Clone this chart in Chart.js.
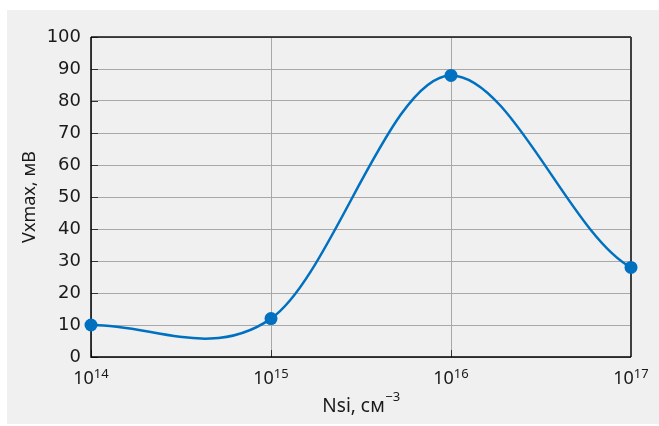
<!DOCTYPE html>
<html>
<head>
<meta charset="utf-8">
<script src="https://cdn.jsdelivr.net/npm/chart.js@4"></script>
<style>
html,body{margin:0;padding:0;background:#fff;}
#wrap{width:659px;height:426px;}
</style>
</head>
<body>
<div id="wrap"><canvas id="c" width="659" height="426"></canvas></div>
<script>
const concentrations = [1e14, 1e15, 1e16, 1e17];
const vxmax = [10, 12, 88, 28];
const xTickValues = [1e14, 1e15, 1e16, 1e17];
const xTickBase = ['10', '10', '10', '10'];
const xTickExp = ['14', '15', '16', '17'];
const yTickStep = 10;
const yTitle = 'Vxmax, мВ';
const xTitleMain = 'Nsi, см';
const xTitleExp = '\u22123';

const TEXT = '#1a1a1a';

// Smooth curve: Catmull-Rom style tangents (zero at local extrema, half secant at ends),
// computed from the point elements' pixel positions given by the scales.
const smoothCurve = {
  id: 'smoothCurve',
  beforeDatasetsDraw(chart) {
    const meta = chart.getDatasetMeta(0);
    const line = meta.dataset;
    line.updateControlPoints(chart.chartArea, meta.iAxis);
    const p = meta.data;
    const n = p.length;
    const d = [];
    for (let i = 0; i < n - 1; i++) d.push((p[i + 1].y - p[i].y) / (p[i + 1].x - p[i].x));
    const m = [];
    for (let i = 0; i < n; i++) {
      if (i === 0) m.push(d[0] / 2);
      else if (i === n - 1) m.push(d[n - 2] / 2);
      else m.push(d[i - 1] * d[i] <= 0 ? 0 : (d[i - 1] + d[i]) / 2);
    }
    for (let i = 0; i < n; i++) {
      const dxPrev = i > 0 ? (p[i].x - p[i - 1].x) / 3 : 0;
      const dxNext = i < n - 1 ? (p[i + 1].x - p[i].x) / 3 : 0;
      p[i].cp1x = p[i].x - dxPrev; p[i].cp1y = p[i].y - m[i] * dxPrev;
      p[i].cp2x = p[i].x + dxNext; p[i].cp2y = p[i].y + m[i] * dxNext;
    }
    line._pointsUpdated = true;
    line._path = undefined;
  }
};

const frame = {
  id: 'frame',
  beforeDraw(chart) {
    const ctx = chart.ctx;
    ctx.save();
    ctx.fillStyle = '#ffffff';
    ctx.fillRect(0, 0, chart.width, chart.height);
    ctx.fillStyle = '#f0f0f0';
    ctx.fillRect(7, 10, chart.width - 7, chart.height - 12);
    ctx.restore();
  },
  beforeDatasetsDraw(chart) {
    const ctx = chart.ctx;
    const a = chart.chartArea;
    const xs = chart.scales.x, ys = chart.scales.y;
    ctx.save();
    ctx.strokeStyle = '#333';
    ctx.lineWidth = 1;
    ys.ticks.forEach(t => {
      const y = Math.round(ys.getPixelForValue(t.value)) + 0.5;
      ctx.beginPath(); ctx.moveTo(a.left, y); ctx.lineTo(a.left + 7, y); ctx.stroke();
    });
    xs.ticks.forEach(t => {
      const x = Math.round(xs.getPixelForValue(t.value)) + 0.5;
      ctx.beginPath(); ctx.moveTo(x, a.bottom); ctx.lineTo(x, a.bottom - 7); ctx.stroke();
    });
    ctx.strokeStyle = '#111';
    ctx.lineWidth = 1.5;
    ctx.beginPath(); ctx.moveTo(a.left, a.top); ctx.lineTo(a.right, a.top); ctx.stroke();
    ctx.strokeStyle = '#404040';
    ctx.lineWidth = 2;
    ctx.beginPath(); ctx.moveTo(a.right, a.top); ctx.lineTo(a.right, a.bottom); ctx.stroke();
    ctx.strokeStyle = '#000';
    ctx.lineWidth = 1.5;
    ctx.beginPath(); ctx.moveTo(a.left, a.top); ctx.lineTo(a.left, a.bottom); ctx.lineTo(a.right, a.bottom); ctx.stroke();
    ctx.restore();
  },
  afterDraw(chart) {
    const ctx = chart.ctx;
    const a = chart.chartArea;
    const xs = chart.scales.x;
    ctx.save();
    ctx.fillStyle = TEXT;
    ctx.textBaseline = 'alphabetic';
    ctx.textAlign = 'left';
    const baseFont = '18px "Noto Sans"';
    const expFont = '13px "Noto Sans"';
    xTickValues.forEach((v, i) => {
      const cx = xs.getPixelForValue(v);
      ctx.font = baseFont;
      const wb = ctx.measureText(xTickBase[i]).width;
      ctx.font = expFont;
      const we = ctx.measureText(xTickExp[i]).width;
      const x0 = cx - (wb + we) / 2;
      ctx.font = baseFont;
      ctx.fillText(xTickBase[i], x0, a.bottom + 27);
      ctx.font = expFont;
      ctx.fillText(xTickExp[i], x0 + wb, a.bottom + 21);
    });
    const tMain = '19px "Noto Sans"';
    ctx.font = tMain;
    const wm = ctx.measureText(xTitleMain).width;
    ctx.font = expFont;
    const wx = ctx.measureText(xTitleExp).width;
    const cx = (a.left + a.right) / 2;
    const x0 = cx - (wm + wx) / 2;
    ctx.font = tMain;
    ctx.fillText(xTitleMain, x0, a.bottom + 55);
    ctx.font = expFont;
    ctx.fillText(xTitleExp, x0 + wm + 0.5, a.bottom + 43.5);
    ctx.restore();
  }
};

new Chart(document.getElementById('c'), {
  type: 'line',
  data: {
    datasets: [{
      data: concentrations.map((x, i) => ({x: x, y: vxmax[i]})),
      borderColor: '#0070c0',
      backgroundColor: '#0070c0',
      borderWidth: 2.5,
      pointRadius: 6.5,
      pointBackgroundColor: '#0070c0',
      pointBorderWidth: 0,
      tension: 0.4,
      clip: false,
      fill: false
    }]
  },
  options: {
    responsive: false,
    animation: false,
    devicePixelRatio: 1,
    layout: { padding: { left: 0, top: 37, right: 28, bottom: 0 } },
    plugins: { legend: { display: false }, tooltip: { enabled: false } },
    scales: {
      x: {
        type: 'logarithmic',
        min: 1e14,
        max: 1e17,
        afterBuildTicks: s => { s.ticks = xTickValues.map(v => ({ value: v })); },
        afterFit: s => { s.height = 69; },
        grid: { color: '#a8a8a8', lineWidth: 1, drawTicks: false },
        border: { display: false },
        ticks: { display: false, autoSkip: false }
      },
      y: {
        min: 0,
        max: 100,
        afterFit: s => { s.width = 91; },
        grid: { color: '#a8a8a8', lineWidth: 1, drawTicks: false },
        border: { display: false },
        ticks: {
          stepSize: yTickStep,
          padding: 10,
          color: TEXT,
          font: { family: 'DejaVu Sans', size: 18 }
        },
        title: {
          display: true,
          text: yTitle,
          color: TEXT,
          font: { family: 'Noto Sans', size: 18 },
          padding: { top: 19, bottom: 0 }
        }
      }
    }
  },
  plugins: [frame, smoothCurve]
});
</script>
</body>
</html>
